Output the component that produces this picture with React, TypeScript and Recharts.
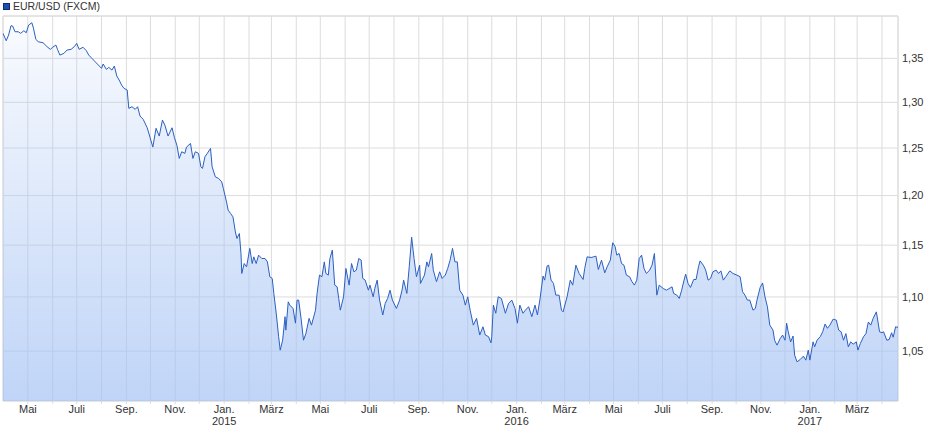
import { AreaChart, Area, XAxis, YAxis, CartesianGrid, ReferenceArea } from "recharts";

// EUR/USD closes, roughly every 3-4 days
const dates = [
  "2014-03-31", "2014-04-04", "2014-04-07", "2014-04-10", "2014-04-12", "2014-04-15", "2014-04-19", "2014-04-22", "2014-04-26", "2014-04-29",
  "2014-05-02", "2014-05-06", "2014-05-08", "2014-05-11", "2014-05-14", "2014-05-20", "2014-05-25", "2014-05-29",
  "2014-06-01", "2014-06-05", "2014-06-07", "2014-06-10", "2014-06-15", "2014-06-19", "2014-06-24", "2014-06-28",
  "2014-07-01", "2014-07-04", "2014-07-09", "2014-07-13", "2014-07-16", "2014-07-20", "2014-07-24", "2014-07-28",
  "2014-08-01", "2014-08-03", "2014-08-07", "2014-08-10", "2014-08-14", "2014-08-17", "2014-08-20", "2014-08-23", "2014-08-26", "2014-08-29",
  "2014-09-02", "2014-09-04", "2014-09-08", "2014-09-12", "2014-09-15", "2014-09-18", "2014-09-22", "2014-09-27", "2014-09-30",
  "2014-10-04", "2014-10-08", "2014-10-12", "2014-10-16", "2014-10-19", "2014-10-23", "2014-10-28", "2014-10-31",
  "2014-11-03", "2014-11-06", "2014-11-09", "2014-11-13", "2014-11-15", "2014-11-20", "2014-11-23", "2014-11-26", "2014-11-30",
  "2014-12-03", "2014-12-05", "2014-12-08", "2014-12-11", "2014-12-15", "2014-12-17", "2014-12-21", "2014-12-25", "2014-12-29", "2014-12-31",
  "2015-01-04", "2015-01-06", "2015-01-09", "2015-01-12", "2015-01-15", "2015-01-17", "2015-01-20", "2015-01-22", "2015-01-23", "2015-01-26", "2015-01-29",
  "2015-02-02", "2015-02-05", "2015-02-07", "2015-02-10", "2015-02-13", "2015-02-17", "2015-02-21", "2015-02-24", "2015-02-27",
  "2015-03-02", "2015-03-04", "2015-03-07", "2015-03-10", "2015-03-12", "2015-03-15", "2015-03-18", "2015-03-19", "2015-03-22", "2015-03-24", "2015-03-28", "2015-03-31",
  "2015-04-02", "2015-04-04", "2015-04-07", "2015-04-10", "2015-04-13", "2015-04-17", "2015-04-20", "2015-04-25", "2015-04-27", "2015-04-30",
  "2015-05-03", "2015-05-06", "2015-05-08", "2015-05-11", "2015-05-13", "2015-05-16", "2015-05-19", "2015-05-22", "2015-05-24", "2015-05-26", "2015-05-30",
  "2015-06-02", "2015-06-06", "2015-06-09", "2015-06-12", "2015-06-15", "2015-06-18", "2015-06-21", "2015-06-23", "2015-06-26", "2015-06-30",
  "2015-07-02", "2015-07-06", "2015-07-08", "2015-07-11", "2015-07-14", "2015-07-18", "2015-07-21", "2015-07-24", "2015-07-27", "2015-07-30",
  "2015-08-04", "2015-08-08", "2015-08-11", "2015-08-13", "2015-08-17", "2015-08-20", "2015-08-23", "2015-08-26", "2015-08-29",
  "2015-09-02", "2015-09-03", "2015-09-08", "2015-09-11", "2015-09-13", "2015-09-17", "2015-09-19", "2015-09-23", "2015-09-27", "2015-09-30",
  "2015-10-04", "2015-10-07", "2015-10-10", "2015-10-13", "2015-10-16", "2015-10-19", "2015-10-22", "2015-10-26", "2015-10-29",
  "2015-11-01", "2015-11-04", "2015-11-08", "2015-11-12", "2015-11-16", "2015-11-20", "2015-11-23", "2015-11-27", "2015-11-30",
  "2015-12-01", "2015-12-03", "2015-12-06", "2015-12-09", "2015-12-13", "2015-12-18", "2015-12-22", "2015-12-26", "2015-12-30",
  "2016-01-02", "2016-01-05", "2016-01-09", "2016-01-12", "2016-01-16", "2016-01-20", "2016-01-24", "2016-01-27", "2016-01-30",
  "2016-02-03", "2016-02-05", "2016-02-08", "2016-02-10", "2016-02-13", "2016-02-16", "2016-02-19", "2016-02-23", "2016-02-26", "2016-02-28",
  "2016-03-04", "2016-03-08", "2016-03-11", "2016-03-15", "2016-03-19", "2016-03-24", "2016-03-26", "2016-03-29",
  "2016-04-03", "2016-04-06", "2016-04-09", "2016-04-12", "2016-04-16", "2016-04-20", "2016-04-23", "2016-04-27", "2016-04-30",
  "2016-05-03", "2016-05-05", "2016-05-08", "2016-05-11", "2016-05-14", "2016-05-17", "2016-05-21", "2016-05-24", "2016-05-27", "2016-05-30",
  "2016-06-02", "2016-06-05", "2016-06-08", "2016-06-11", "2016-06-15", "2016-06-18", "2016-06-21", "2016-06-24", "2016-06-27",
  "2016-07-02", "2016-07-06", "2016-07-13", "2016-07-15", "2016-07-19", "2016-07-22", "2016-07-25", "2016-07-28", "2016-07-30",
  "2016-08-02", "2016-08-05", "2016-08-09", "2016-08-12", "2016-08-15", "2016-08-17", "2016-08-21", "2016-08-24", "2016-08-27", "2016-08-30",
  "2016-09-02", "2016-09-06", "2016-09-09", "2016-09-12", "2016-09-15", "2016-09-18", "2016-09-23", "2016-09-27",
  "2016-10-02", "2016-10-06", "2016-10-09", "2016-10-12", "2016-10-15", "2016-10-18", "2016-10-22", "2016-10-25", "2016-10-27", "2016-10-31",
  "2016-11-03", "2016-11-06", "2016-11-09", "2016-11-12", "2016-11-16", "2016-11-18", "2016-11-21", "2016-11-25", "2016-11-28",
  "2016-12-01", "2016-12-03", "2016-12-05", "2016-12-08", "2016-12-11", "2016-12-13", "2016-12-16", "2016-12-20", "2016-12-24", "2016-12-27", "2016-12-30",
  "2017-01-01", "2017-01-05", "2017-01-07", "2017-01-10", "2017-01-14", "2017-01-17", "2017-01-20", "2017-01-23", "2017-01-26", "2017-01-30",
  "2017-02-03", "2017-02-06", "2017-02-09", "2017-02-12", "2017-02-15", "2017-02-18", "2017-02-21", "2017-02-24", "2017-02-28",
  "2017-03-02", "2017-03-05", "2017-03-09", "2017-03-12", "2017-03-15", "2017-03-18", "2017-03-21", "2017-03-25", "2017-03-29",
  "2017-04-01", "2017-04-03", "2017-04-07", "2017-04-10", "2017-04-13", "2017-04-15", "2017-04-18", "2017-04-21",
];

const rates = [
  1.3793, 1.3706, 1.3773, 1.3884, 1.388, 1.3812, 1.3812, 1.3793, 1.3824, 1.38,
  1.3892, 1.3919, 1.3855, 1.3722, 1.3694, 1.3682, 1.3636, 1.3605,
  1.3629, 1.3655, 1.3605, 1.3538, 1.3558, 1.3597, 1.3605, 1.3636,
  1.3675, 1.3605, 1.3629, 1.3589, 1.3538, 1.35, 1.3461, 1.3423,
  1.3385, 1.3435, 1.3373, 1.3396, 1.3365, 1.3411, 1.3297, 1.3251, 1.3194, 1.3157,
  1.3138, 1.2933, 1.2951, 1.2922, 1.2951, 1.2848, 1.2811, 1.2719, 1.2629,
  1.251, 1.2713, 1.2629, 1.2803, 1.2748, 1.2629, 1.2719, 1.2611,
  1.2531, 1.2389, 1.246, 1.2443, 1.251, 1.2549, 1.2389, 1.246, 1.2443,
  1.23, 1.2283, 1.2406, 1.2443, 1.2496, 1.23, 1.2195, 1.2178, 1.2142, 1.2074,
  1.1933, 1.1851, 1.1817, 1.1783, 1.1632, 1.1566, 1.1616, 1.1418, 1.1224, 1.132, 1.1288,
  1.1468, 1.132, 1.1385, 1.132, 1.1402, 1.1369, 1.1369, 1.1336, 1.1192,
  1.1176, 1.1033, 1.0847, 1.0631, 1.0509, 1.0599, 1.0815, 1.0691, 1.0954, 1.0923, 1.0892, 1.0755,
  1.097, 1.097, 1.08, 1.0599, 1.0659, 1.08, 1.0737, 1.0876, 1.1033, 1.1208,
  1.1192, 1.1336, 1.1224, 1.1208, 1.1369, 1.1451, 1.1112, 1.1096, 1.0986, 1.0876, 1.1001,
  1.1272, 1.1112, 1.132, 1.124, 1.1256, 1.1369, 1.1353, 1.1176, 1.116, 1.1064,
  1.1112, 1.1001, 1.108, 1.116, 1.097, 1.0831, 1.0939, 1.0986, 1.1064, 1.097,
  1.0892, 1.097, 1.1064, 1.116, 1.1033, 1.1288, 1.1579, 1.1369, 1.1192,
  1.1304, 1.1128, 1.1208, 1.1336, 1.1288, 1.1418, 1.1256, 1.1145, 1.124, 1.1176,
  1.1208, 1.1272, 1.1353, 1.1468, 1.1336, 1.1336, 1.1064, 1.1017, 1.0923,
  1.1001, 1.0876, 1.0737, 1.08, 1.0646, 1.0722, 1.0646, 1.0631, 1.0575,
  1.0631, 1.0923, 1.0847, 1.1001, 1.0986, 1.0847, 1.0939, 1.097, 1.0892,
  1.0755, 1.0923, 1.0847, 1.0876, 1.0908, 1.0815, 1.0923, 1.0831, 1.097,
  1.1199, 1.116, 1.1295, 1.1304, 1.116, 1.1128, 1.1017, 1.1017, 1.0876, 1.086,
  1.1001, 1.116, 1.1112, 1.1304, 1.1224, 1.1166, 1.1272, 1.1385,
  1.1379, 1.1385, 1.1392, 1.1262, 1.1353, 1.123, 1.1288, 1.1353, 1.1524,
  1.1484, 1.1402, 1.1418, 1.132, 1.1304, 1.1208, 1.1192, 1.1145, 1.1112, 1.116,
  1.1369, 1.1402, 1.1272, 1.1224, 1.1256, 1.1304, 1.1418, 1.1017, 1.1112,
  1.108, 1.1064, 1.1096, 1.1033, 1.1017, 1.0986, 1.1064, 1.116, 1.1218,
  1.1128, 1.109, 1.1166, 1.1166, 1.1288, 1.1346, 1.1304, 1.1256, 1.116, 1.1176,
  1.124, 1.1256, 1.1224, 1.1249, 1.116, 1.1192, 1.1249, 1.1224,
  1.1208, 1.1192, 1.1049, 1.1017, 1.097, 1.097, 1.0876, 1.0892, 1.097, 1.109,
  1.1133, 1.1001, 1.0908, 1.0737, 1.0691, 1.0599, 1.0554, 1.0615, 1.0646,
  1.0599, 1.0755, 1.0676, 1.0584, 1.0637, 1.0464, 1.0404, 1.0425, 1.0455, 1.0419, 1.0509,
  1.0419, 1.0584, 1.0539, 1.0599, 1.0631, 1.0676, 1.0747, 1.0708, 1.0737, 1.0792,
  1.0783, 1.0691, 1.0676, 1.0599, 1.0659, 1.0539, 1.0584, 1.0563, 1.0584,
  1.0509, 1.0569, 1.0631, 1.0659, 1.0766, 1.0737, 1.08, 1.086, 1.0676,
  1.0667, 1.0676, 1.0599, 1.0605, 1.0667, 1.0626, 1.0722, 1.0716,
];

// month gridlines; only every other month gets a label
const monthTicks = [
  "2014-05-01", "2014-06-01", "2014-07-01", "2014-08-01", "2014-09-01", "2014-10-01", "2014-11-01", "2014-12-01",
  "2015-01-01", "2015-02-01", "2015-03-01", "2015-04-01", "2015-05-01", "2015-06-01", "2015-07-01", "2015-08-01",
  "2015-09-01", "2015-10-01", "2015-11-01", "2015-12-01", "2016-01-01", "2016-02-01", "2016-03-01", "2016-04-01",
  "2016-05-01", "2016-06-01", "2016-07-01", "2016-08-01", "2016-09-01", "2016-10-01", "2016-11-01", "2016-12-01",
  "2017-01-01", "2017-02-01", "2017-03-01", "2017-04-01",
];
const monthLabels = ["Jan.", "", "März", "", "Mai", "", "Juli", "", "Sep.", "", "Nov.", ""];
const rateTicks = [1.05, 1.1, 1.15, 1.2, 1.25, 1.3, 1.35];

const Y_MIN = 1.006;
const Y_MAX = 1.4;
const FONT = '"Liberation Sans", Arial, sans-serif';

const toTime = (s: string) => Date.parse(s);

const chartData = dates.map((d, i) => ({ t: toTime(d), rate: rates[i] }));
const tickTimes = monthTicks.map(toTime);
const xMin = chartData[0].t;
const xMax = chartData[chartData.length - 1].t;

function MonthTick({ x, y, payload }: any) {
  const d = new Date(payload.value);
  const label = monthLabels[d.getUTCMonth()];
  if (!label) return <g />;
  return (
    <g>
      <text x={x} y={y + 7} textAnchor="middle" fontSize={11} fill="#333">
        {label}
      </text>
      {d.getUTCMonth() === 0 && (
        <text x={x} y={y + 19} textAnchor="middle" fontSize={11} fill="#333">
          {d.getUTCFullYear()}
        </text>
      )}
    </g>
  );
}

export default function App() {
  return (
    <div style={{ position: "absolute", left: 0, top: 0, width: 940, height: 431, fontFamily: FONT, background: "#fff" }}>
      <div
        style={{
          position: "absolute",
          left: 3,
          top: 0,
          display: "flex",
          alignItems: "center",
          fontSize: 10.5,
          lineHeight: "12px",
          color: "#333",
          zIndex: 1,
        }}
      >
        <span style={{ width: 5, height: 5, background: "#1f4fae", border: "1px solid #0e2e74", display: "inline-block" }} />
        <span style={{ marginLeft: 3 }}>EUR/USD (FXCM)</span>
      </div>
      <AreaChart width={940} height={431} data={chartData} margin={{ top: 16, right: 0, bottom: 0, left: 3 }}>
        <defs>
          <linearGradient id="fxFill" gradientUnits="userSpaceOnUse" x1="0" y1="16" x2="0" y2="401">
            <stop offset="0%" stopColor="#a4c2f4" stopOpacity={0.06} />
            <stop offset="100%" stopColor="#a4c2f4" stopOpacity={0.7} />
          </linearGradient>
        </defs>
        <CartesianGrid stroke="#dcdcdc" />
        <XAxis
          dataKey="t"
          type="number"
          domain={[xMin, xMax]}
          allowDataOverflow
          ticks={tickTimes}
          interval={0}
          height={30}
          axisLine={false}
          tickLine={{ stroke: "#dcdcdc" }}
          tickSize={3}
          tick={<MonthTick />}
        />
        <YAxis
          orientation="right"
          scale="log"
          type="number"
          domain={[Y_MIN, Y_MAX]}
          allowDataOverflow
          ticks={rateTicks}
          interval={0}
          width={42}
          axisLine={false}
          tickLine={false}
          tickSize={0}
          tickMargin={4}
          tick={{ fontSize: 11, fill: "#333" }}
          tickFormatter={(v: number) => v.toFixed(2).replace(".", ",")}
        />
        <ReferenceArea x1={xMin} x2={xMax} y1={Y_MIN} y2={Y_MAX} fill="none" stroke="#dcdcdc" />
        <Area
          type="linear"
          dataKey="rate"
          stroke="#2b5fc1"
          strokeWidth={1}
          fill="url(#fxFill)"
          fillOpacity={1}
          baseValue={Y_MIN}
          dot={false}
          activeDot={false}
          isAnimationActive={false}
        />
      </AreaChart>
    </div>
  );
}
